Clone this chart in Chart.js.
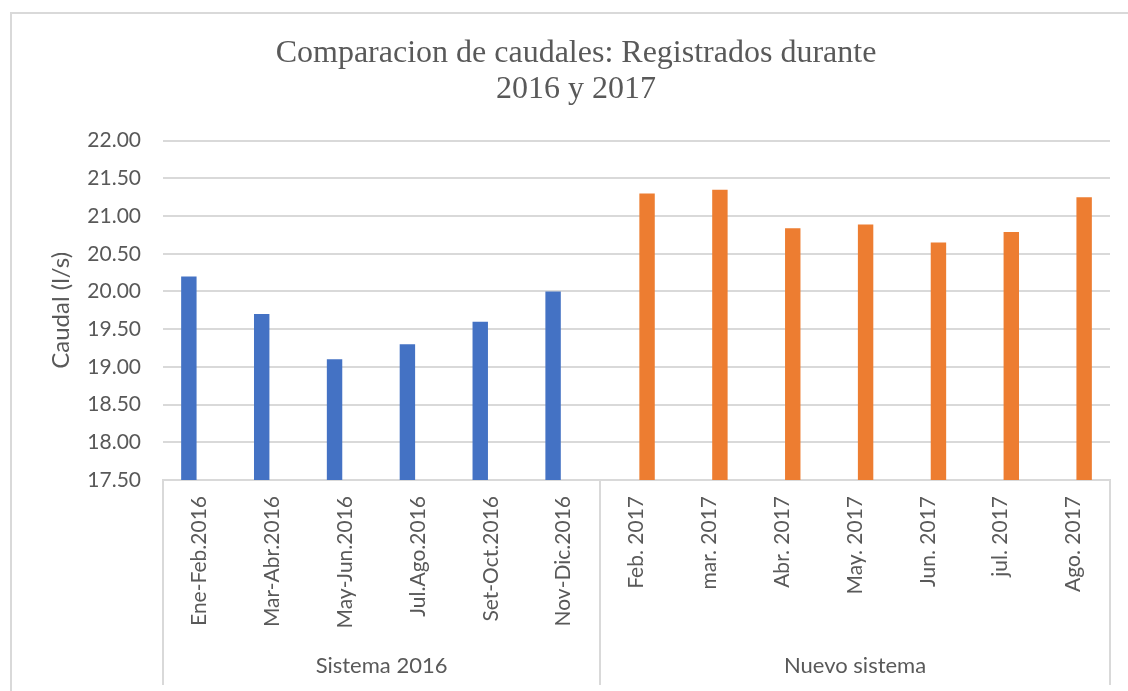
<!DOCTYPE html>
<html>
<head>
<meta charset="utf-8">
<script src="https://cdn.jsdelivr.net/npm/chart.js@4.4.1/dist/chart.umd.min.js"></script>
<style>
  html, body { margin: 0; padding: 0; background: #ffffff; }
  #wrap { width: 1128px; height: 691px; position: relative; }
</style>
</head>
<body>
<div id="wrap"><canvas id="c" width="1128" height="691"></canvas></div>
<script>
// ---- Data ----
const categories = [
  "Ene-Feb.2016", "Mar-Abr.2016", "May-Jun.2016", "Jul.Ago.2016", "Set-Oct.2016", "Nov-Dic.2016",
  "Feb. 2017", "mar. 2017", "Abr. 2017", "May. 2017", "Jun. 2017", "jul. 2017", "Ago. 2017"
];
const sistema2016 = [20.20, 19.70, 19.10, 19.30, 19.60, 20.00, null, null, null, null, null, null, null];
const nuevoSistema = [null, null, null, null, null, null, 21.30, 21.35, 20.84, 20.89, 20.65, 20.79, 21.25];
const groupNames = ["Sistema 2016", "Nuevo sistema"];
const groupSizes = [6, 7];
const titleLines = ["Comparacion de caudales: Registrados durante", "2016 y 2017"];
const yTitle = "Caudal (l/s)";
const yMin = 17.5, yMax = 22, yStep = 0.5;

const GRID = "#d9d9d9";
const TXT = "#595959";

const frame = {
  id: "frame",
  beforeDraw(chart) {
    const ctx = chart.ctx;
    ctx.save();
    ctx.fillStyle = "#ffffff";
    ctx.fillRect(0, 0, chart.width, chart.height);
    ctx.strokeStyle = GRID;
    ctx.lineWidth = 2;
    ctx.strokeRect(11, 13, 1400, 900);
    ctx.restore();
  }
};

const groupAxis = {
  id: "groupAxis",
  afterDraw(chart) {
    const ctx = chart.ctx;
    const xs = chart.scales.x;
    const top = chart.chartArea.bottom;
    const bottomY = 685;
    const edges = [xs.left];
    let idx = 0;
    groupSizes.forEach((n) => {
      idx += n;
      if (idx < categories.length) {
        edges.push((xs.getPixelForTick(idx - 1) + xs.getPixelForTick(idx)) / 2);
      } else {
        edges.push(xs.right);
      }
    });
    ctx.save();
    ctx.strokeStyle = GRID;
    ctx.lineWidth = 2;
    edges.forEach(x => {
      ctx.beginPath();
      ctx.moveTo(Math.round(x), top);
      ctx.lineTo(Math.round(x), bottomY);
      ctx.stroke();
    });
    ctx.fillStyle = TXT;
    ctx.font = "22px Lato";
    ctx.textAlign = "center";
    ctx.textBaseline = "middle";
    groupNames.forEach((name, g) => {
      ctx.fillText(name, (edges[g] + edges[g + 1]) / 2, 666);
    });
    ctx.restore();
  }
};

new Chart(document.getElementById("c"), {
  type: "bar",
  data: {
    labels: categories,
    datasets: [
      { label: "Sistema 2016", data: sistema2016, backgroundColor: "#4472C4", yAxisID: "y" },
      { label: "Nuevo sistema", data: nuevoSistema, backgroundColor: "#ED7D31", yAxisID: "y" }
    ]
  },
  options: {
    responsive: false,
    animation: false,
    devicePixelRatio: 1,
    categoryPercentage: 0.58,
    barPercentage: 0.73,
    layout: { padding: { left: 36, right: 12, top: 36, bottom: 0 } },
    plugins: {
      legend: { display: false },
      tooltip: { enabled: false },
      title: {
        display: true,
        text: titleLines,
        color: TXT,
        font: { family: "Liberation Serif", size: 32, weight: "normal", lineHeight: 1.12 },
        padding: { top: 0, bottom: 33 }
      }
    },
    scales: {
      x: {
        type: "category",
        grid: { display: false, drawTicks: false },
        border: { display: true, color: GRID, width: 2 },
        ticks: {
          color: TXT,
          font: { family: "Lato", size: 21 },
          maxRotation: 90,
          minRotation: 90,
          autoSkip: false,
          padding: 16
        },
        afterFit(s) { s.height = 211; }
      },
      y: {
        type: "linear",
        position: "left",
        min: yMin,
        max: yMax,
        grid: { color: GRID, lineWidth: 2, drawTicks: false },
        border: { display: false },
        ticks: {
          stepSize: yStep,
          color: TXT,
          font: { family: "Lato", size: 21 },
          padding: 22,
          callback: v => Number(v).toFixed(2)
        },
        title: {
          display: true,
          text: yTitle,
          color: TXT,
          font: { family: "Lato", size: 24 },
          padding: { top: 11, bottom: 0 }
        },
        afterFit(s) { s.width = 127; }
      },
      yR: {
        type: "linear",
        position: "right",
        display: true,
        grid: { display: false, drawTicks: false },
        border: { display: false },
        ticks: { display: false },
        afterFit(s) { s.width = 6; }
      }
    }
  },
  plugins: [frame, groupAxis]
});
</script>
</body>
</html>
